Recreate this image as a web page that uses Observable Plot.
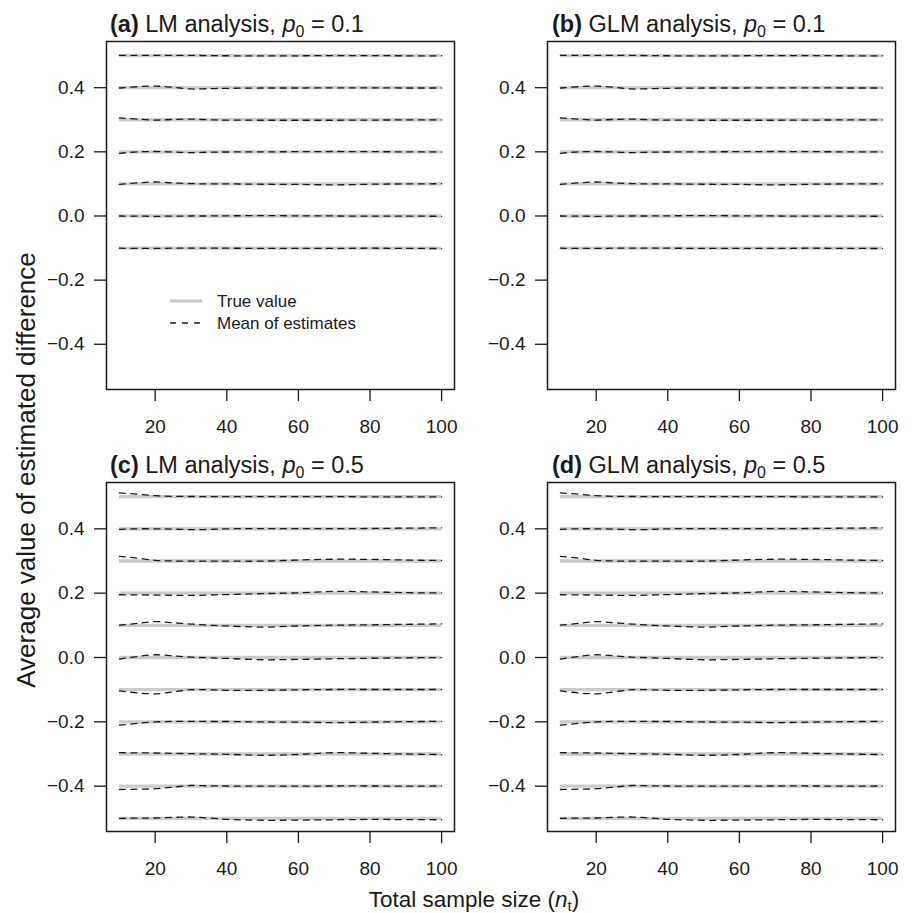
<!DOCTYPE html>
<html><head><meta charset="utf-8">
<script src="https://cdn.jsdelivr.net/npm/d3@7"></script>
<script src="https://cdn.jsdelivr.net/npm/@observablehq/plot@0.6"></script>
<style>
body{margin:0;background:#fff;}
#root{position:relative;width:912px;height:913px;font-family:"Liberation Sans",Arial,Helvetica,sans-serif;overflow:hidden;}
.panel{position:absolute;}
.panel svg{overflow:visible;}
#overlay{position:absolute;left:0;top:0;pointer-events:none;}
</style></head><body><div id="root"></div>
<script>
// ---- data ----
const sampleSizes = [10, 15, 20, 25, 30, 35, 40, 50, 60, 70, 80, 90, 100];
const yTicks = [-0.4, -0.2, 0, 0.2, 0.4];
const xTicks = [20, 40, 60, 80, 100];

const trueP01 = [0.5, 0.4, 0.3, 0.2, 0.1, 0.0, -0.1];
const estLM01 = [
  [0.501, 0.501, 0.501, 0.5005, 0.5005, 0.5, 0.4995, 0.499, 0.4995, 0.5, 0.5, 0.4995, 0.4995],
  [0.399, 0.403, 0.405, 0.401, 0.396, 0.397, 0.398, 0.399, 0.399, 0.3995, 0.3995, 0.399, 0.399],
  [0.306, 0.302, 0.299, 0.301, 0.302, 0.300, 0.299, 0.2985, 0.2985, 0.2985, 0.299, 0.2995, 0.2995],
  [0.1955, 0.200, 0.201, 0.1995, 0.1975, 0.199, 0.1995, 0.200, 0.2005, 0.201, 0.2005, 0.200, 0.1995],
  [0.0985, 0.103, 0.106, 0.103, 0.101, 0.100, 0.100, 0.099, 0.0985, 0.097, 0.099, 0.100, 0.1005],
  [0.0, -0.0005, -0.001, -0.0005, 0.0, 0.0, 0.0005, 0.001, 0.0005, 0.0, -0.0005, -0.0005, -0.001],
  [-0.1005, -0.101, -0.101, -0.1005, -0.1005, -0.1005, -0.1005, -0.101, -0.101, -0.101, -0.1005, -0.101, -0.1015]
];
const estGLM01 = [
  [0.501, 0.501, 0.501, 0.5005, 0.5005, 0.5, 0.4995, 0.499, 0.4995, 0.5, 0.5, 0.4995, 0.4995],
  [0.399, 0.403, 0.405, 0.401, 0.396, 0.397, 0.398, 0.399, 0.399, 0.3995, 0.3995, 0.399, 0.399],
  [0.306, 0.302, 0.299, 0.301, 0.302, 0.300, 0.299, 0.2985, 0.2985, 0.2985, 0.299, 0.2995, 0.2995],
  [0.1955, 0.200, 0.201, 0.1995, 0.1975, 0.199, 0.1995, 0.200, 0.2005, 0.201, 0.2005, 0.200, 0.1995],
  [0.0985, 0.103, 0.106, 0.103, 0.101, 0.100, 0.100, 0.099, 0.0985, 0.097, 0.099, 0.100, 0.1005],
  [0.0, -0.0005, -0.001, -0.0005, 0.0, 0.0, 0.0005, 0.001, 0.0005, 0.0, -0.0005, -0.0005, -0.001],
  [-0.1005, -0.101, -0.101, -0.1005, -0.1005, -0.1005, -0.1005, -0.101, -0.101, -0.101, -0.1005, -0.101, -0.1015]
];

const trueP05 = [0.5, 0.4, 0.3, 0.2, 0.1, 0.0, -0.1, -0.2, -0.3, -0.4, -0.5];
const estLM05 = [
  [0.5115, 0.508, 0.503, 0.501, 0.5005, 0.5, 0.5, 0.5, 0.5, 0.5, 0.4995, 0.4995, 0.499],
  [0.3985, 0.400, 0.400, 0.399, 0.3975, 0.398, 0.400, 0.4005, 0.4005, 0.4005, 0.401, 0.402, 0.403],
  [0.3145, 0.309, 0.302, 0.300, 0.2995, 0.2995, 0.2995, 0.2995, 0.303, 0.3055, 0.305, 0.303, 0.3015],
  [0.195, 0.1945, 0.194, 0.1935, 0.193, 0.194, 0.1955, 0.1985, 0.201, 0.2055, 0.204, 0.2015, 0.2005],
  [0.1005, 0.106, 0.1115, 0.108, 0.104, 0.1005, 0.098, 0.0945, 0.098, 0.1005, 0.1015, 0.103, 0.1045],
  [-0.005, 0.003, 0.0085, 0.005, 0.001, -0.001, -0.003, -0.007, -0.006, -0.004, -0.0025, -0.001, -0.0005],
  [-0.104, -0.110, -0.113, -0.107, -0.100, -0.1005, -0.102, -0.102, -0.1005, -0.0995, -0.0995, -0.0995, -0.0995],
  [-0.2105, -0.205, -0.2005, -0.1985, -0.1985, -0.199, -0.199, -0.2005, -0.201, -0.2025, -0.201, -0.1995, -0.1985],
  [-0.296, -0.2965, -0.297, -0.298, -0.299, -0.300, -0.301, -0.304, -0.3015, -0.296, -0.298, -0.300, -0.302],
  [-0.4105, -0.4095, -0.408, -0.403, -0.398, -0.399, -0.3995, -0.400, -0.400, -0.3995, -0.3995, -0.400, -0.3995],
  [-0.500, -0.4995, -0.499, -0.497, -0.496, -0.499, -0.503, -0.506, -0.5055, -0.5045, -0.5035, -0.504, -0.5045]
];
const estGLM05 = [
  [0.5115, 0.508, 0.503, 0.501, 0.5005, 0.5, 0.5, 0.5, 0.5, 0.5, 0.4995, 0.4995, 0.499],
  [0.3985, 0.400, 0.400, 0.399, 0.3975, 0.398, 0.400, 0.4005, 0.4005, 0.4005, 0.401, 0.402, 0.403],
  [0.3145, 0.309, 0.302, 0.300, 0.2995, 0.2995, 0.2995, 0.2995, 0.303, 0.3055, 0.305, 0.303, 0.3015],
  [0.195, 0.1945, 0.194, 0.1935, 0.193, 0.194, 0.1955, 0.1985, 0.201, 0.2055, 0.204, 0.2015, 0.2005],
  [0.1005, 0.106, 0.1115, 0.108, 0.104, 0.1005, 0.098, 0.0945, 0.098, 0.1005, 0.1015, 0.103, 0.1045],
  [-0.005, 0.003, 0.0085, 0.005, 0.001, -0.001, -0.003, -0.007, -0.006, -0.004, -0.0025, -0.001, -0.0005],
  [-0.104, -0.110, -0.113, -0.107, -0.100, -0.1005, -0.102, -0.102, -0.1005, -0.0995, -0.0995, -0.0995, -0.0995],
  [-0.2105, -0.205, -0.2005, -0.1985, -0.1985, -0.199, -0.199, -0.2005, -0.201, -0.2025, -0.201, -0.1995, -0.1985],
  [-0.296, -0.2965, -0.297, -0.298, -0.299, -0.300, -0.301, -0.304, -0.3015, -0.296, -0.298, -0.300, -0.302],
  [-0.4105, -0.4095, -0.408, -0.403, -0.398, -0.399, -0.3995, -0.400, -0.400, -0.3995, -0.3995, -0.400, -0.3995],
  [-0.500, -0.4995, -0.499, -0.497, -0.496, -0.499, -0.503, -0.506, -0.5055, -0.5045, -0.5035, -0.504, -0.5045]
];

const panelLetters = ["(a)", "(b)", "(c)", "(d)"];
const panelMethods = ["LM analysis, ", "GLM analysis, ", "LM analysis, ", "GLM analysis, "];
const panelP0 = ["0.1", "0.1", "0.5", "0.5"];
const legendLabels = ["True value", "Mean of estimates"];
const xTitle = "Total sample size (";
const yTitle = "Average value of estimated difference";

// ---- layout ----
const FONT = "Liberation Sans, Arial, Helvetica, sans-serif";
const INK = "#1a1a1a";
const layouts = [
  {left: 0,   top: 0,   width: 460, height: 440, mL: 106, mR: 6,  mT: 41, mB: 51},
  {left: 460, top: 0,   width: 452, height: 440, mL: 87,  mR: 17, mT: 41, mB: 51},
  {left: 0,   top: 440, width: 460, height: 473, mL: 106, mR: 6,  mT: 42, mB: 82},
  {left: 460, top: 440, width: 452, height: 473, mL: 87,  mR: 17, mT: 42, mB: 82}
];
const truths = [trueP01, trueP01, trueP05, trueP05];
const ests = [estLM01, estGLM01, estLM05, estGLM05];

const root = document.getElementById("root");
const fmt = d => d.toFixed(1).replace("-", "\u2212");

layouts.forEach((L, k) => {
  const truthRows = truths[k].map(t => ({x1: sampleSizes[0], x2: sampleSizes[sampleSizes.length - 1], y: t}));
  const estRows = ests[k].flatMap((s, i) => s.map((v, j) => ({x: sampleSizes[j], y: v, series: i})));
  const chart = Plot.plot({
    width: L.width, height: L.height,
    marginLeft: L.mL, marginRight: L.mR, marginTop: L.mT, marginBottom: L.mB,
    style: {fontFamily: FONT, fontSize: "19px", color: INK, background: "transparent", overflow: "visible"},
    x: {domain: [6.4, 103.6], axis: null},
    y: {domain: [-0.541, 0.544], axis: null},
    marks: [
      Plot.ruleY(truthRows, {x1: "x1", x2: "x2", y: "y", stroke: "#cbcbcb", strokeWidth: 3.3}),
      Plot.line(estRows, {x: "x", y: "y", z: "series", stroke: INK, strokeWidth: 1.3, strokeDasharray: "6,5.5", curve: "catmull-rom"}),
      Plot.frame({stroke: INK, strokeWidth: 1.5}),
      Plot.axisX(xTicks, {tickSize: 12, tickPadding: 18, strokeWidth: 1.3, fontSize: 19, label: null}),
      Plot.axisY(yTicks, {tickSize: 12, tickPadding: 10, strokeWidth: 1.3, fontSize: 19, tickFormat: fmt, label: null})
    ]
  });
  const div = document.createElement("div");
  div.className = "panel";
  div.style.left = L.left + "px";
  div.style.top = L.top + "px";
  div.appendChild(chart);
  root.appendChild(div);
});

// ---- overlay text: titles, axis titles, legend ----
const ov = d3.select(root).append("svg").attr("id", "overlay")
  .attr("width", 912).attr("height", 913)
  .style("font-family", FONT).attr("fill", INK);

const titlePos = [[110, 32], [552, 32], [110, 473], [552, 473]];
titlePos.forEach(([x, y], k) => {
  const t = ov.append("text").attr("x", x).attr("y", y).attr("font-size", 23.5);
  t.append("tspan").attr("font-weight", "bold").text(panelLetters[k]);
  t.append("tspan").text(" " + panelMethods[k]);
  t.append("tspan").attr("font-style", "italic").text("p");
  t.append("tspan").attr("font-size", 16).attr("dy", 5).text("0");
  t.append("tspan").attr("dy", -5).text(" = " + panelP0[k]);
});

ov.append("text")
  .attr("transform", "translate(35,470) rotate(-90)")
  .attr("text-anchor", "middle").attr("font-size", 26)
  .text(yTitle);

const xt = ov.append("text").attr("x", 474).attr("y", 907)
  .attr("text-anchor", "middle").attr("font-size", 22.5);
xt.append("tspan").text(xTitle);
xt.append("tspan").attr("font-style", "italic").text("n");
xt.append("tspan").attr("font-size", 15).attr("dy", 4).text("t");
xt.append("tspan").attr("dy", -4).text(")");

// legend in panel (a)
const lg = ov.append("g");
lg.append("line").attr("x1", 170).attr("x2", 202).attr("y1", 301).attr("y2", 301)
  .attr("stroke", "#cbcbcb").attr("stroke-width", 3.3);
lg.append("line").attr("x1", 170).attr("x2", 201).attr("y1", 323).attr("y2", 323)
  .attr("stroke", INK).attr("stroke-width", 1.3).attr("stroke-dasharray", "6,6");
lg.append("text").attr("x", 217).attr("y", 301).attr("dy", "0.35em").attr("font-size", 17).text(legendLabels[0]);
lg.append("text").attr("x", 217).attr("y", 323).attr("dy", "0.35em").attr("font-size", 17).text(legendLabels[1]);
</script>
</body></html>
